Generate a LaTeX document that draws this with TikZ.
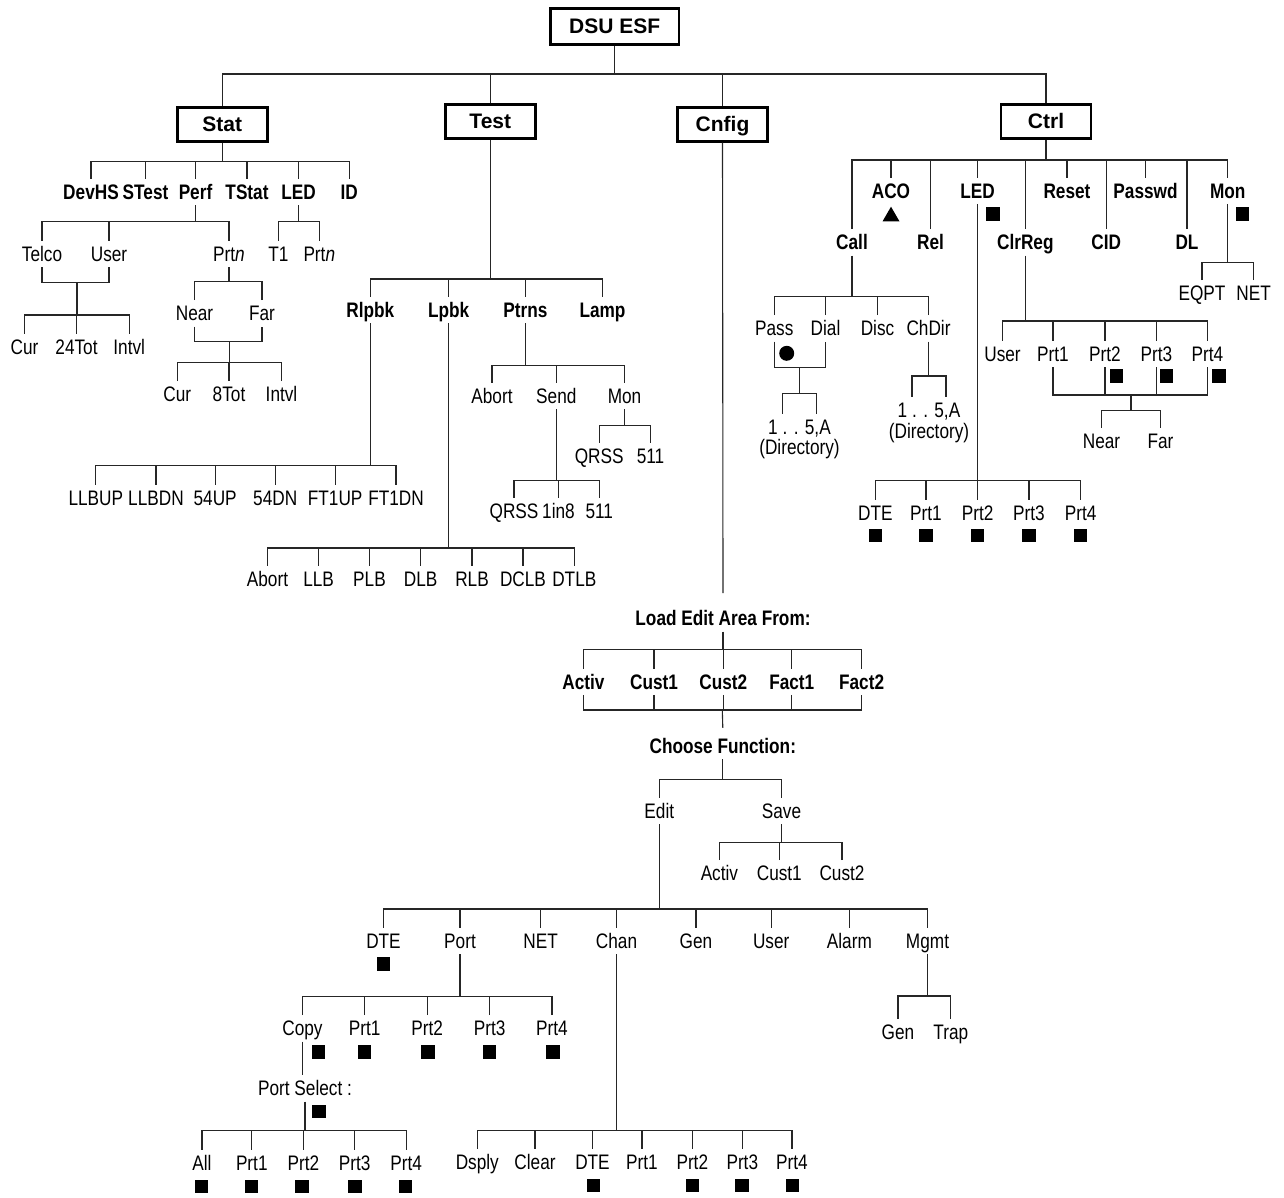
\documentclass[tikz,border=0pt]{standalone}
\usepackage{fontspec}
\setmainfont{Liberation Sans}[FakeStretch=0.82]
\newfontfamily\boxfont{Liberation Sans}
\usetikzlibrary{shapes.geometric}
\tikzset{
  lbl/.style={inner sep=0pt, minimum height=26pt, text height=15pt, text depth=0pt, font=\fontsize{21}{24}\selectfont},
  blbl/.style={lbl, font=\fontsize{21}{24}\selectfont\bfseries},
  topbox/.style={draw, line width=2.8pt, inner sep=0pt, minimum width=90pt, minimum height=34pt, text height=15pt, text depth=0pt, font=\boxfont\fontsize{21}{24}\selectfont\bfseries},
  sq/.style={fill=black, inner sep=0pt, minimum size=13.5pt},
  tri/.style={regular polygon, regular polygon sides=3, fill=black, inner sep=0pt, minimum size=19.6pt},
  dotmark/.style={circle, fill=black, inner sep=0pt, minimum size=15pt},
  conn/.style={line width=1.1pt, draw=black!85},
}
\newcommand\mkbranch[3]{%
  \draw[conn] (#1) -- (#1 |- 0,#2);
  \foreach \c in {#3}{\draw[conn] (\c.north) -- (\c.north |- 0,#2) -- (#1 |- 0,#2);}
}
\begin{document}
\begin{tikzpicture}[x=1pt,y=-1pt]
\useasboundingbox (0,0) rectangle (1284,1197);
% level 0/1
\node[topbox, minimum width=128.5pt, minimum height=36pt] (dsu) at (614.7,26.2) {DSU ESF};
\node[topbox] (stat) at (222.2,124.3) {Stat};
\node[topbox] (test) at (490.3,121.3) {Test};
\node[topbox] (cnfig) at (722.5,124.3) {Cnfig};
\node[topbox] (ctrl) at (1046,121.3) {Ctrl};
\mkbranch{dsu.south}{74}{stat,test,cnfig,ctrl}
% ---------------- Stat
\node[blbl] (devhs) at (91,192) {DevHS};
\node[blbl] (stest) at (145.5,192) {STest};
\node[blbl] (perf) at (195.5,192) {Perf};
\node[blbl] (tstat) at (247,192) {TStat};
\node[blbl] (sled) at (298.5,192) {LED};
\node[blbl] (sid) at (349.3,192) {ID};
\mkbranch{stat.south}{161.7}{devhs,stest,perf,tstat,sled,sid}
\node[lbl] (telco) at (42,254) {Telco};
\node[lbl] (puser) at (109,254) {User};
\node[lbl] (pprtn) at (229,254) {Prt\textit{n}};
\mkbranch{perf.south}{221.7}{telco,puser,pprtn}
\coordinate (jtu) at (77,282.7);
\draw[conn] (telco.south) |- (jtu) -| (puser.south);
\node[lbl] (pcur) at (24.5,346.7) {Cur};
\node[lbl] (ptot) at (76.5,346.7) {24Tot};
\node[lbl] (pint) at (129.2,346.7) {Intvl};
\mkbranch{jtu}{315}{pcur,ptot,pint}
\node[lbl] (pnear) at (194.5,313.3) {Near};
\node[lbl] (pfar) at (262,313.3) {Far};
\mkbranch{pprtn.south}{281.7}{pnear,pfar}
\coordinate (jnf) at (229.3,341.7);
\draw[conn] (pnear.south) |- (jnf) -| (pfar.south);
\node[lbl] (ncur) at (177.2,394.3) {Cur};
\node[lbl] (ntot) at (229,394.3) {8Tot};
\node[lbl] (nint) at (281.5,394.3) {Intvl};
\mkbranch{jnf}{362.3}{ncur,ntot,nint}
\node[lbl] (st1) at (278.5,254) {T1};
\node[lbl] (sprtn) at (319.3,254) {Prt\textit{n}};
\mkbranch{sled.south}{221.7}{st1,sprtn}
% ---------------- Test
\node[blbl] (rlpbk) at (370.3,310) {Rlpbk};
\node[blbl] (lpbk) at (448.7,310) {Lpbk};
\node[blbl] (ptrns) at (525.5,310) {Ptrns};
\node[blbl] (lamp) at (602.5,310) {Lamp};
\mkbranch{test.south}{279}{rlpbk,lpbk,ptrns,lamp}
\node[lbl] (llbup) at (95.8,497.7) {LLBUP};
\node[lbl] (llbdn) at (156,497.7) {LLBDN};
\node[lbl] (upf) at (215.2,497.7) {54UP};
\node[lbl] (dnf) at (275.2,497.7) {54DN};
\node[lbl] (ftup) at (335.2,497.7) {FT1UP};
\node[lbl] (ftdn) at (396,497.7) {FT1DN};
\mkbranch{rlpbk.south}{465.7}{llbup,llbdn,upf,dnf,ftup,ftdn}
\node[lbl] (labort) at (267.5,579) {Abort};
\node[lbl] (llb) at (318.6,579) {LLB};
\node[lbl] (plb) at (369.5,579) {PLB};
\node[lbl] (dlb) at (420.7,579) {DLB};
\node[lbl] (rlb) at (472,579) {RLB};
\node[lbl] (dclb) at (523,579) {DCLB};
\node[lbl] (dtlb) at (574.3,579) {DTLB};
\mkbranch{lpbk.south}{548}{labort,llb,plb,dlb,rlb,dclb,dtlb}
\node[lbl] (pabort) at (492,396.1) {Abort};
\node[lbl] (psend) at (556.3,396.1) {Send};
\node[lbl] (pmon) at (624.5,396.1) {Mon};
\mkbranch{ptrns.south}{365.1}{pabort,psend,pmon}
\node[lbl] (sqrss) at (514,511.1) {QRSS};
\node[lbl] (sinen) at (558.5,511.1) {1in8};
\node[lbl] (sfive) at (599.3,511.1) {511};
\mkbranch{psend.south}{480.1}{sqrss,sinen,sfive}
\node[lbl] (mqrss) at (599.2,456) {QRSS};
\node[lbl] (mfive) at (650.5,456) {511};
\mkbranch{pmon.south}{425.7}{mqrss,mfive}
% ---------------- Cnfig
\node[blbl] (load) at (723,618.3) {Load Edit Area From:};
\draw[conn] (cnfig.south) -- ([yshift=12pt]load.north);
\node[blbl] (lactiv) at (583.4,681.7) {Activ};
\node[blbl] (lcusta) at (654,681.7) {Cust1};
\node[blbl] (lcustb) at (723.3,681.7) {Cust2};
\node[blbl] (lfacta) at (791.8,681.7) {Fact1};
\node[blbl] (lfactb) at (861.6,681.7) {Fact2};
\mkbranch{load.south}{649.3}{lactiv,lcusta,lcustb,lfacta,lfactb}
\coordinate (jld) at (722.3,710);
\draw[conn] (lactiv.south) |- (jld) -| (lfactb.south);
\foreach \c in {lcusta,lcustb,lfacta}{\draw[conn] (\c.south) -- (\c.south |- jld);}
\node[blbl] (choose) at (722.8,746) {Choose Function:};
\draw[conn] (jld) -- ([yshift=5pt]choose.north);
\node[lbl] (edit) at (659.3,811) {Edit};
\node[lbl] (save) at (781.5,811) {Save};
\mkbranch{choose.south}{779.3}{edit,save}
\node[lbl] (sactiv) at (719.4,873.3) {Activ};
\node[lbl] (scusta) at (779.3,873.3) {Cust1};
\node[lbl] (scustb) at (842,873.3) {Cust2};
\mkbranch{save.south}{842.3}{sactiv,scusta,scustb}
\node[lbl] (edte) at (383.5,941) {DTE};
\node[lbl] (eport) at (460,941) {Port};
\node[lbl] (enet) at (540.7,941) {NET};
\node[lbl] (echan) at (616.5,941) {Chan};
\node[lbl] (egen) at (696,941) {Gen};
\node[lbl] (euser) at (771.2,941) {User};
\node[lbl] (ealarm) at (849.4,941) {Alarm};
\node[lbl] (emgmt) at (927.5,941) {Mgmt};
\mkbranch{edit.south}{909}{edte,eport,enet,echan,egen,euser,ealarm,emgmt}
\node[sq] (edtesq) at (383.5,964) {};
\node[lbl] (copy) at (302.5,1028.3) {Copy};
\node[lbl] (oprta) at (364.6,1028.3) {Prt1};
\node[lbl] (oprtb) at (427.2,1028.3) {Prt2};
\node[lbl] (oprtc) at (489.7,1028.3) {Prt3};
\node[lbl] (oprtd) at (552,1028.3) {Prt4};
\mkbranch{eport.south}{996.7}{copy,oprta,oprtb,oprtc,oprtd}
\node[sq] (copysq) at (318.5,1052) {};
\node[sq] (oprtasq) at (364.3,1052) {};
\node[sq] (oprtbsq) at (428,1052) {};
\node[sq] (oprtcsq) at (489.3,1052) {};
\node[sq] (oprtdsq) at (553,1052) {};
\node[lbl] (psel) at (305,1088.3) {Port Select :};
\draw[conn] (copy.south) -- (copy.south |- psel.north);
\node[sq] (pselsq) at (319.2,1111.3) {};
\node[lbl] (aall) at (202,1162.7) {All};
\node[lbl] (aprta) at (251.8,1162.7) {Prt1};
\node[lbl] (aprtb) at (303.5,1162.7) {Prt2};
\node[lbl] (aprtc) at (354.7,1162.7) {Prt3};
\node[lbl] (aprtd) at (406.2,1162.7) {Prt4};
\mkbranch{psel.south}{1130.7}{aall,aprta,aprtb,aprtc,aprtd}
\node[sq] (aallsq) at (201.3,1186.7) {};
\node[sq] (aprtasq) at (251.7,1186.7) {};
\node[sq] (aprtbsq) at (302,1186.7) {};
\node[sq] (aprtcsq) at (355,1186.7) {};
\node[sq] (aprtdsq) at (405.3,1186.7) {};
\node[lbl] (cdsply) at (477.3,1161.7) {Dsply};
\node[lbl] (cclear) at (535,1161.7) {Clear};
\node[lbl] (cdte) at (592.5,1161.7) {DTE};
\node[lbl] (cprta) at (642,1161.7) {Prt1};
\node[lbl] (cprtb) at (692.3,1161.7) {Prt2};
\node[lbl] (cprtc) at (742.3,1161.7) {Prt3};
\node[lbl] (cprtd) at (792,1161.7) {Prt4};
\mkbranch{echan.south}{1130.7}{cdsply,cclear,cdte,cprta,cprtb,cprtc,cprtd}
\node[sq] (cdtesq) at (593.3,1185.7) {};
\node[sq] (cprtbsq) at (692.5,1185.7) {};
\node[sq] (cprtcsq) at (742,1185.7) {};
\node[sq] (cprtdsq) at (792.5,1185.7) {};
\node[lbl] (mgen) at (898,1032.3) {Gen};
\node[lbl] (mtrap) at (950.8,1032.3) {Trap};
\mkbranch{emgmt.south}{996}{mgen,mtrap}
% ---------------- Ctrl
\node[blbl] (caco) at (891,190.7) {ACO};
\node[blbl] (cled) at (977.6,190.7) {LED};
\node[blbl] (creset) at (1067,190.7) {Reset};
\node[blbl] (cpasswd) at (1145.5,190.7) {Passwd};
\node[blbl] (cmon) at (1227.8,190.7) {Mon};
\node[blbl] (ccall) at (852,242.3) {Call};
\node[blbl] (crel) at (930.5,242.3) {Rel};
\node[blbl] (cclr) at (1025.3,242.3) {ClrReg};
\node[blbl] (ccid) at (1106.3,242.3) {CID};
\node[blbl] (cdl) at (1187,242.3) {DL};
\mkbranch{ctrl.south}{160}{ccall,caco,crel,cled,cclr,creset,ccid,cpasswd,cdl,cmon}
\node[tri] (acotri) at (891,216.5) {};
\node[sq] (cledsq) at (993,214) {};
\node[sq] (cmonsq) at (1242.5,214) {};
\node[lbl] (pass) at (774.3,328.3) {Pass};
\node[lbl] (dial) at (825.5,328.3) {Dial};
\node[lbl] (disc) at (877.5,328.3) {Disc};
\node[lbl] (chdir) at (928.5,328.3) {ChDir};
\mkbranch{ccall.south}{296.7}{pass,dial,disc,chdir}
\node[dotmark] (passdot) at (786.7,353.3) {};
\coordinate (jpd) at (799.3,367.3);
\draw[conn] (pass.south) |- (jpd) -| (dial.south);
\node[lbl] (dira) at (799.5,426.7) {1 . . 5,A};
\node[lbl] (dirab) at (799.5,446.7) {(Directory)};
\draw[conn] (jpd) -- (jpd |- 0,393.3);
\draw[conn] ([xshift=-17pt]dira.north) |- (jpd |- 0,393.3) -| ([xshift=17pt]dira.north);
\node[lbl] (dirb) at (929,410) {1 . . 5,A};
\node[lbl] (dirbb) at (929,430.7) {(Directory)};
\draw[conn] (chdir.south) -- (chdir.south |- 0,376);
\draw[conn] ([xshift=-17pt]dirb.north) |- (chdir.south |- 0,376) -| ([xshift=17pt]dirb.north);
\node[lbl] (kuser) at (1002.5,354) {User};
\node[lbl] (kprta) at (1053,354) {Prt1};
\node[lbl] (kprtb) at (1105,354) {Prt2};
\node[lbl] (kprtc) at (1156.5,354) {Prt3};
\node[lbl] (kprtd) at (1207.5,354) {Prt4};
\mkbranch{cclr.south}{321}{kuser,kprta,kprtb,kprtc,kprtd}
\node[sq] (kprtbsq) at (1116.7,376) {};
\node[sq] (kprtcsq) at (1166.7,376) {};
\node[sq] (kprtdsq) at (1219,376) {};
\coordinate (jk) at (1131,395);
\draw[conn] (kprta.south) |- (jk) -| (kprtd.south);
\foreach \c in {kprtb,kprtc}{\draw[conn] (\c.south) -- (\c.south |- jk);}
\node[lbl] (knear) at (1101.5,441) {Near};
\node[lbl] (kfar) at (1160.5,441) {Far};
\mkbranch{jk}{410.7}{knear,kfar}
\node[lbl] (ldte) at (875.3,512.7) {DTE};
\node[lbl] (lprta) at (926,512.7) {Prt1};
\node[lbl] (lprtb) at (977.7,512.7) {Prt2};
\node[lbl] (lprtc) at (1029,512.7) {Prt3};
\node[lbl] (lprtd) at (1080.7,512.7) {Prt4};
\mkbranch{cled.south}{480.3}{ldte,lprta,lprtb,lprtc,lprtd}
\foreach \c in {ldte,lprta,lprtb,lprtc,lprtd}{\node[sq] (\c sq) at ([yshift=-23pt]\c.center) {};}
\node[lbl] (meqpt) at (1202,293.3) {EQPT};
\node[lbl] (mnet) at (1253.7,293.3) {NET};
\mkbranch{cmon.south}{262.7}{meqpt,mnet}
\end{tikzpicture}
\end{document}
